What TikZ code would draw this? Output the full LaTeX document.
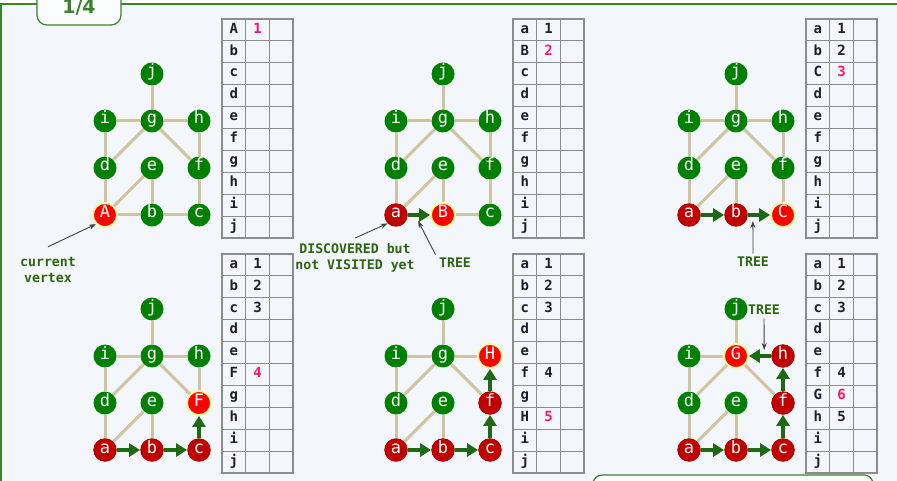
\documentclass[tikz,border=0pt]{standalone}
\usepackage{fontspec}
\newfontfamily\codefont{DejaVu Sans Mono}
\newfontfamily\headfont{DejaVu Sans}
\usetikzlibrary{arrows.meta,calc}

\definecolor{pagebg}{RGB}{243,247,251}
\definecolor{framegreen}{RGB}{60,130,45}
\definecolor{gnode}{RGB}{0,128,0}
\definecolor{rnode}{RGB}{192,0,0}
\definecolor{halo}{RGB}{255,248,150}
\definecolor{edgetan}{RGB}{206,197,160}
\definecolor{treegreen}{RGB}{30,105,20}
\definecolor{notegreen}{RGB}{45,100,15}
\definecolor{hot}{RGB}{255,20,110}
\definecolor{ink}{RGB}{30,30,45}
\definecolor{gridgray}{RGB}{140,140,140}

\tikzset{
  vtx/.style={circle, fill=gnode, minimum size=23pt, inner sep=0pt, text=white,
    text height=9pt, text depth=3pt, font=\codefont\fontsize{17}{17}\selectfont},
  seen/.style={vtx, fill=rnode, minimum size=23.4pt},
  cur/.style={vtx, fill=red, draw=halo, line width=1.8pt, minimum size=24pt},
  link/.style={draw=edgetan, line width=3pt},
  treearc/.style={draw=treegreen, line width=4.5pt, -{Triangle[length=11pt,width=13pt]}},
  tabline/.style={draw=gridgray, line width=1.1pt},
  cellt/.style={inner sep=0pt, text=ink, text height=9pt, text depth=2.5pt,
    font=\codefont\bfseries\fontsize{14}{14}\selectfont},
  note/.style={align=center, text=notegreen, font=\codefont\bfseries\fontsize{13.2}{16}\selectfont},
  ptr/.style={draw=black!75, line width=0.9pt, -{Stealth[length=7pt,width=5pt]}},
  tabbox/.style={draw=framegreen, line width=1.2pt, fill=white!60!pagebg, rounded corners=10pt,
    minimum width=84pt, minimum height=36pt, text=framegreen, font=\headfont\bfseries\fontsize{19}{19}\selectfont},
}

\makeatletter
% #1 prefix, #2 origin, #3 changed vertices, #4 tree arcs, #5 table rows
\newcommand\bfspanel[5]{%
  \begin{scope}[shift={#2}, name prefix=#1-]
    \foreach \k/\px/\py in {j/1/0,i/0/1,g/1/1,h/2/1,d/0/2,e/1/2,f/2/2,a/0/3,b/1/3,c/2/3}
      \node[vtx] (\k) at (\px*47,\py*47) {\k};
    \foreach \k/\t/\s in {#3}
      \node[\s] (\k) at (\k) {\t};
    \foreach \u/\v in {i/g,h/g,j/g,i/d,d/g,g/f,f/h,d/a,a/e,e/b,a/b,b/c,c/f}{
      \edef\tmp{\noexpand\in@{,\u/\v,}{,#4,}}\tmp
      \ifin@\else\draw[link] (\u) -- (\v);\fi}
    \foreach \u/\v in {#4}
      \draw[treearc] (\u) -- (\v);
    % table
    \draw[tabline] (117,-55) rectangle (188,164);
    \foreach \r in {1,...,9}
      \draw[tabline] (117,-55+\r*21.9) -- (188,-55+\r*21.9);
    \foreach \cx in {140.7,164.3}
      \draw[tabline] (\cx,-55) -- (\cx,164);
    \foreach \k/\n/\c [count=\r] in {#5}{
      \node[cellt] (k\r) at (128.8,-55+\r*21.9-10.95) {\k};
      \node[cellt, text=\c] (n\r) at (152.5,-55+\r*21.9-10.95) {\n};}
  \end{scope}}
\makeatother

\begin{document}
\begin{tikzpicture}[x=1pt, y=-1pt]
\useasboundingbox (0,0) rectangle (897,481);
\clip (0,0) rectangle (897,481);
\fill[white] (0,0) rectangle (897,481);
\fill[pagebg] (1,4) rectangle (897,481);
\draw[framegreen, line width=1.5pt] (1,500) -- (1,4) -- (900,4);
\node[tabbox] (tab) at (79,7) {1/4};

\bfspanel{p1}{(105,74)}{a/A/cur}{}
  {A/1/hot, b/{}/ink, c/{}/ink, d/{}/ink, e/{}/ink, f/{}/ink, g/{}/ink, h/{}/ink, i/{}/ink, j/{}/ink}
\bfspanel{p2}{(396,74)}{a/a/seen, b/B/cur}{a/b}
  {a/1/ink, B/2/hot, c/{}/ink, d/{}/ink, e/{}/ink, f/{}/ink, g/{}/ink, h/{}/ink, i/{}/ink, j/{}/ink}
\bfspanel{p3}{(689,74)}{a/a/seen, b/b/seen, c/C/cur}{a/b,b/c}
  {a/1/ink, b/2/ink, C/3/hot, d/{}/ink, e/{}/ink, f/{}/ink, g/{}/ink, h/{}/ink, i/{}/ink, j/{}/ink}
\bfspanel{p4}{(105,309)}{a/a/seen, b/b/seen, c/c/seen, f/F/cur}{a/b,b/c,c/f}
  {a/1/ink, b/2/ink, c/3/ink, d/{}/ink, e/{}/ink, F/4/hot, g/{}/ink, h/{}/ink, i/{}/ink, j/{}/ink}
\bfspanel{p5}{(396,309)}{a/a/seen, b/b/seen, c/c/seen, f/f/seen, h/H/cur}{a/b,b/c,c/f,f/h}
  {a/1/ink, b/2/ink, c/3/ink, d/{}/ink, e/{}/ink, f/4/ink, g/{}/ink, H/5/hot, i/{}/ink, j/{}/ink}
\bfspanel{p6}{(689,309)}{a/a/seen, b/b/seen, c/c/seen, f/f/seen, h/h/seen, g/G/cur}{a/b,b/c,c/f,f/h,h/g}
  {a/1/ink, b/2/ink, c/3/ink, d/{}/ink, e/{}/ink, f/4/ink, G/6/hot, h/5/ink, i/{}/ink, j/{}/ink}

% labels
\node[note] (cv) at (48,270) {current\\vertex};
\draw[ptr] ([yshift=7pt]cv.north) -- (p1-a.south west);
\node[note] (dv) at (355,258) {DISCOVERED but\\not VISITED yet};
\draw[ptr] ([yshift=2pt]dv.north) -- (p2-a.south west);
\node[note] (t2) at (455,263) {TREE};
\draw[ptr] (t2.north west) -- ($(p2-a)!0.47!(p2-b)+(0,6)$);
\node[note] (t3) at (753,262) {TREE};
\draw[ptr] (t3.north) -- ($(p3-b)!0.36!(p3-c)+(0,6)$);
\node[note] (t6) at (764,310) {TREE};
\draw[ptr] (t6.south) -- ($(p6-h)!0.4!(p6-g)+(0,-6)$);

\draw[framegreen, line width=1.2pt, fill=white!60!pagebg, rounded corners=9pt] (593,475) rectangle (873,500);
\end{tikzpicture}
\end{document}
